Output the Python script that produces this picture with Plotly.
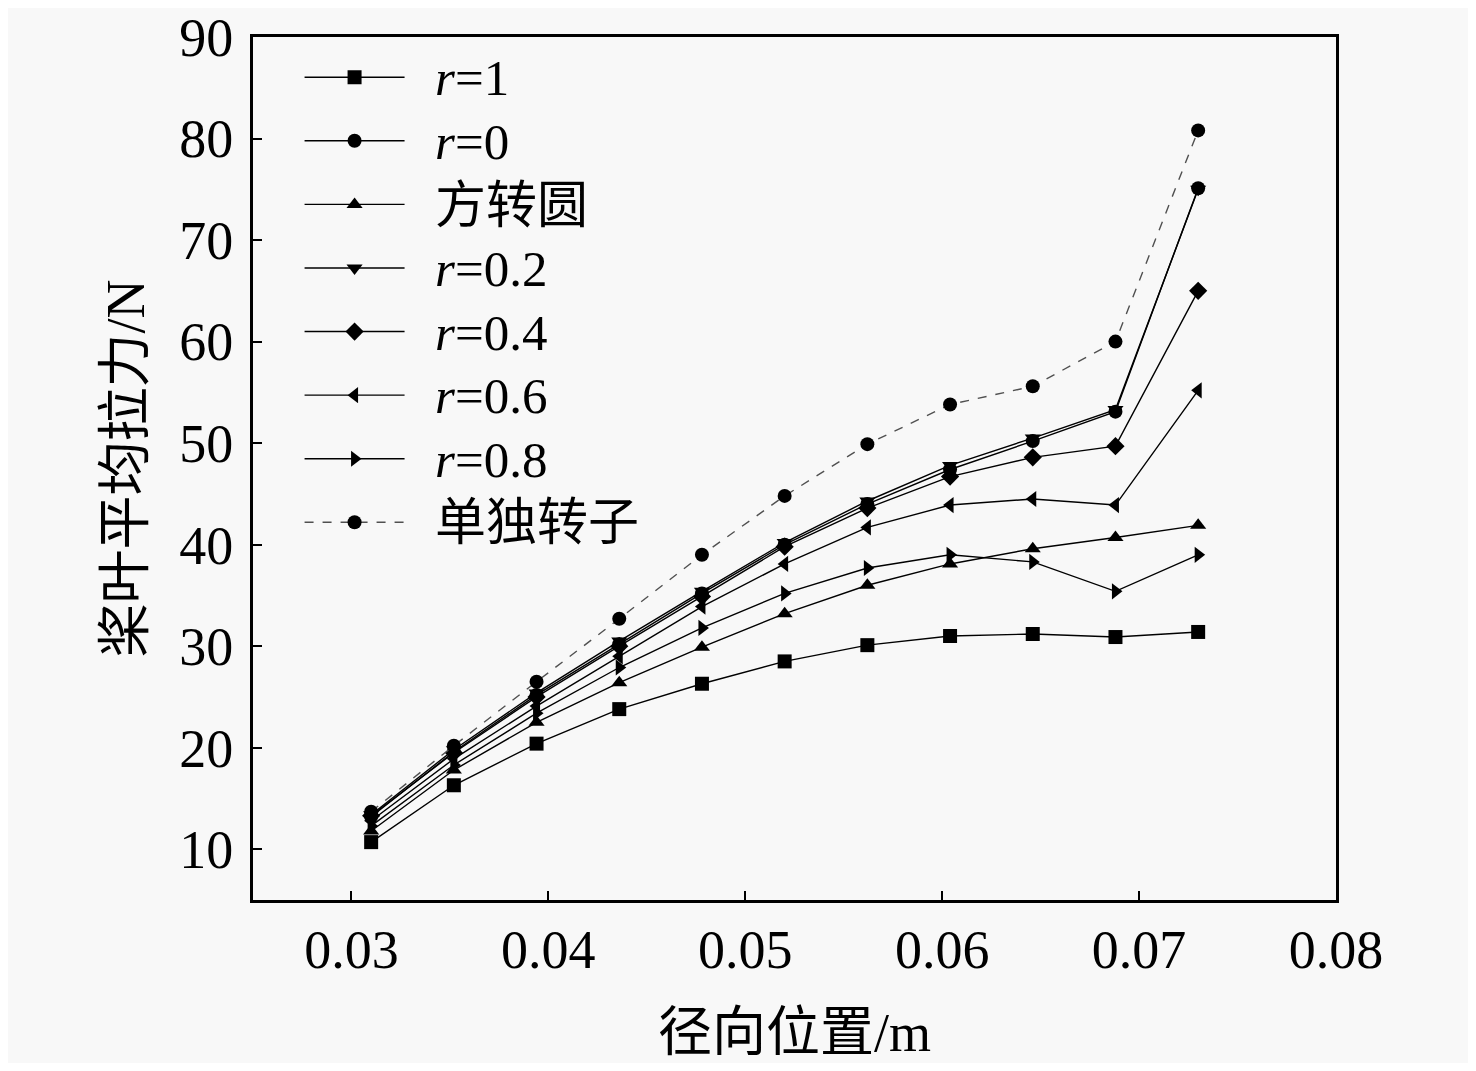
import plotly.graph_objects as go

# 径向位置 (m)
x_pos = [0.031, 0.0352, 0.0394, 0.0436, 0.0478, 0.052, 0.0562, 0.0604, 0.0646, 0.0688, 0.073]

# 桨叶平均拉力 (N)
r_1 = [10.7, 16.3, 20.4, 23.8, 26.3, 28.5, 30.1, 31.0, 31.2, 30.9, 31.4]
r_0 = [13.2, 19.6, 25.2, 30.2, 35.2, 40.0, 44.0, 47.4, 50.2, 53.1, 75.1]
square_to_round = [11.8, 17.8, 22.5, 26.4, 29.9, 33.2, 36.0, 38.1, 39.6, 40.7, 41.9]
r_02 = [13.4, 19.8, 25.4, 30.5, 35.4, 40.2, 44.3, 47.8, 50.5, 53.3, 75.0]
r_04 = [13.3, 19.5, 25.0, 30.0, 34.9, 39.8, 43.6, 46.7, 48.6, 49.7, 65.0]
r_06 = [12.8, 18.9, 24.1, 29.0, 33.9, 38.1, 41.7, 43.9, 44.5, 43.9, 55.2]
r_08 = [12.3, 18.3, 23.4, 27.9, 31.8, 35.2, 37.7, 39.0, 38.3, 35.4, 39.0]
solo_rotor = [13.7, 20.2, 26.5, 32.7, 39.0, 44.8, 49.9, 53.8, 55.6, 60.0, 80.8]

names = ['<i>r</i>=1', '<i>r</i>=0', '方转圆', '<i>r</i>=0.2', '<i>r</i>=0.4',
         '<i>r</i>=0.6', '<i>r</i>=0.8', '单独转子']
series = [r_1, r_0, square_to_round, r_02, r_04, r_06, r_08, solo_rotor]
symbols = ['square', 'circle', 'triangle-up', 'triangle-down', 'diamond',
           'triangle-left', 'triangle-right', 'circle']

SERIF = 'Liberation Serif, Noto Sans CJK SC, serif'
PAD = '\u00a0\u00a0'  # gap between legend sample and label

fig = go.Figure()
for nm, ys, sym in zip(names, series, symbols):
    solo = nm == '单独转子'
    fig.add_trace(go.Scatter(
        x=x_pos, y=ys, mode='lines+markers',
        # legend font size drives row spacing, the span makes the label bigger
        name='<span style="font-size:51px">' + PAD + nm + '</span>',
        line=dict(color='#505050' if solo else 'black', width=1.4,
                  dash='dash' if solo else 'solid'),
        marker=dict(symbol=sym, size=14, color='black', line=dict(width=0)),
    ))

# the page adds an 8px body margin, so the figure is 16px smaller;
# top margin leaves room for the "90" label
fig.update_layout(
    width=1460, height=1055,
    margin=dict(l=245, r=132, t=29, b=163),
    paper_bgcolor='#f8f8f8', plot_bgcolor='#f8f8f8',
    font=dict(family=SERIF, color='black', size=54),
    showlegend=True,
    legend=dict(x=0.043, y=0.996, xanchor='left', yanchor='top',
                bgcolor='rgba(0,0,0,0)', font=dict(size=46.6, family=SERIF),
                itemwidth=100),
    xaxis=dict(range=[0.025, 0.08], tick0=0.03, dtick=0.01,
               showline=True, linecolor='black', linewidth=3, mirror=True,
               ticks='inside', ticklen=9, tickwidth=2, tickcolor='black',
               showgrid=False, zeroline=False, ticklabeloverflow='allow',
               automargin=False,
               tickfont=dict(size=54, family=SERIF),
               title=dict(text='径向位置/m', font=dict(size=54, family=SERIF), standoff=42)),
    yaxis=dict(range=[5, 90], tick0=10, dtick=10,
               showline=True, linecolor='black', linewidth=3, mirror=True,
               ticks='inside', ticklen=9, tickwidth=2, tickcolor='black',
               showgrid=False, zeroline=False, ticklabeloverflow='allow',
               automargin=False,
               tickfont=dict(size=54, family=SERIF), ticklabelstandoff=6,
               title=dict(text='桨叶平均拉力/N', font=dict(size=54, family=SERIF), standoff=18)),
)

fig.write_html("out.html")
